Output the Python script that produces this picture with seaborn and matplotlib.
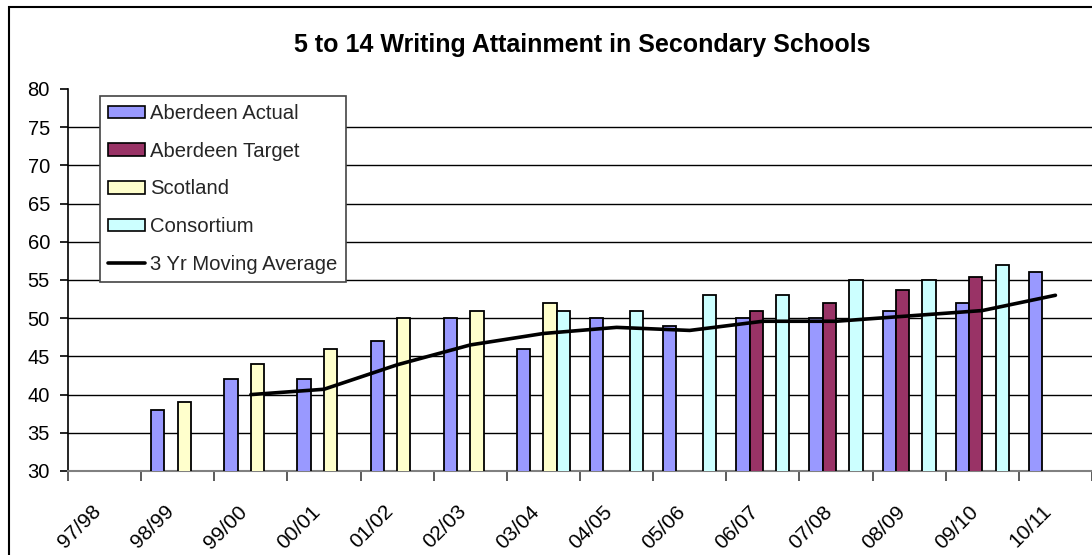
import numpy as np
import pandas as pd
import matplotlib
matplotlib.use("Agg")
import matplotlib.pyplot as plt
import matplotlib.transforms as mtransforms
from matplotlib.patches import Patch, Rectangle
from matplotlib.lines import Line2D
import seaborn as sns

nan = np.nan

periods = ['97/98', '98/99', '99/00', '00/01', '01/02', '02/03', '03/04',
           '04/05', '05/06', '06/07', '07/08', '08/09', '09/10', '10/11']
aberdeen_actual = [nan, 38, 42, 42, 47, 50, 46, 50, 49, 50, 50, 51, 52, 56]
aberdeen_target = [nan, nan, nan, nan, nan, nan, nan, nan, nan, 51, 52, 53.7, 55.4, nan]
scotland = [nan, 39, 44, 46, 50, 51, 52, nan, nan, nan, nan, nan, nan, nan]
consortium = [nan, nan, nan, nan, nan, nan, 51, 51, 53, 53, 55, 55, 57, nan]
moving_avg = [nan, nan, 40, 40.7, 43.9, 46.5, 48, 48.8, 48.4, 49.6, 49.6, 50.3, 51, 53]

series_names = ['Aberdeen Actual', 'Aberdeen Target', 'Scotland', 'Consortium']
ma_label = '3 Yr Moving Average'
title = '5 to 14 Writing Attainment in Secondary Schools'
colors = ['#9999FF', '#993366', '#FFFFCC', '#CCFFFF']

sns.set_theme(style='white')
plt.rcParams['font.family'] = ['Liberation Sans', 'DejaVu Sans']

W, H = 1092, 555
fig = plt.figure(figsize=(W / 100, H / 100), dpi=100)
ax = fig.add_axes([68 / W, 1 - 471 / H, 1 - 68 / W, (471 - 89) / H])

wide = pd.DataFrame({'period': periods,
                     series_names[0]: aberdeen_actual,
                     series_names[1]: aberdeen_target,
                     series_names[2]: scotland,
                     series_names[3]: consortium})
df = wide.melt(id_vars='period', var_name='series', value_name='value').dropna()

sns.barplot(data=df, x='period', y='value', hue='series', order=periods,
            hue_order=series_names, palette=colors, saturation=1,
            width=4 / 5.5, gap=0, errorbar=None, edgecolor='black',
            linewidth=1.3, legend=False, ax=ax, zorder=3)

ma_df = pd.DataFrame({'pos': np.arange(len(periods)), 'ma': moving_avg}).dropna()
sns.lineplot(data=ma_df, x='pos', y='ma', color='black', linewidth=2.6,
             ax=ax, zorder=4)

ax.set_xlim(-0.5, len(periods) - 0.5)
ax.set_ylim(30, 80)
ax.set_yticks(np.arange(30, 81, 5))
ax.set_xlabel('')
ax.set_ylabel('')

ax.set_axisbelow(True)
ax.grid(axis='y', color='black', linewidth=1)
ax.grid(axis='x', visible=False)
ygl = ax.get_ygridlines()
ygl[0].set_visible(False)
ygl[-1].set_visible(False)

for s in ['top', 'right']:
    ax.spines[s].set_visible(False)
ax.spines['left'].set_color('black')
ax.spines['left'].set_linewidth(1.2)
ax.spines['bottom'].set_color('#808080')
ax.spines['bottom'].set_linewidth(1.5)

ax.set_xticks(np.arange(len(periods)))
ax.set_xticklabels(periods, rotation=45, ha='right', va='center',
                   rotation_mode='anchor')
ax.set_xticks(np.arange(-0.5, len(periods), 1), minor=True)
ax.tick_params(axis='x', which='major', length=0, pad=27, labelsize=15,
               colors='black')
ax.tick_params(axis='x', which='minor', length=7, width=1.2, color='#404040',
               direction='out', bottom=True)
ax.tick_params(axis='y', length=6, width=1.2, color='black', direction='out',
               pad=7, labelsize=14.5, left=True, labelcolor='black')

offset = mtransforms.ScaledTranslation(-7 / 100, 0, fig.dpi_scale_trans)
for lab in ax.get_xticklabels():
    lab.set_transform(lab.get_transform() + offset)

handles = [Patch(facecolor=c, edgecolor='black', linewidth=1.2) for c in colors]
handles.append(Line2D([0], [0], color='black', linewidth=2.6))
labels = series_names + [ma_label]
leg = ax.legend(handles, labels, loc='upper left',
                bbox_to_anchor=(32 / 1024, (471 - 96) / 382),
                borderaxespad=0, fontsize=14.6, frameon=True, fancybox=False,
                edgecolor='#444444', framealpha=1, labelspacing=0.92,
                handlelength=1.8, handleheight=0.58, handletextpad=0.28,
                borderpad=0.4)
leg.get_frame().set_linewidth(1.2)
leg.set_zorder(10)

fig.add_artist(Rectangle((9 / W, -0.05), 1.2, 1 - 7 / H + 0.05,
                         transform=fig.transFigure, fill=False,
                         edgecolor='black', linewidth=1.5))

fig.text(582 / W, 1 - 45 / H, title, ha='center', va='center',
         fontsize=18, fontweight='bold', color='black')

fig.savefig('out.png', dpi=100)
